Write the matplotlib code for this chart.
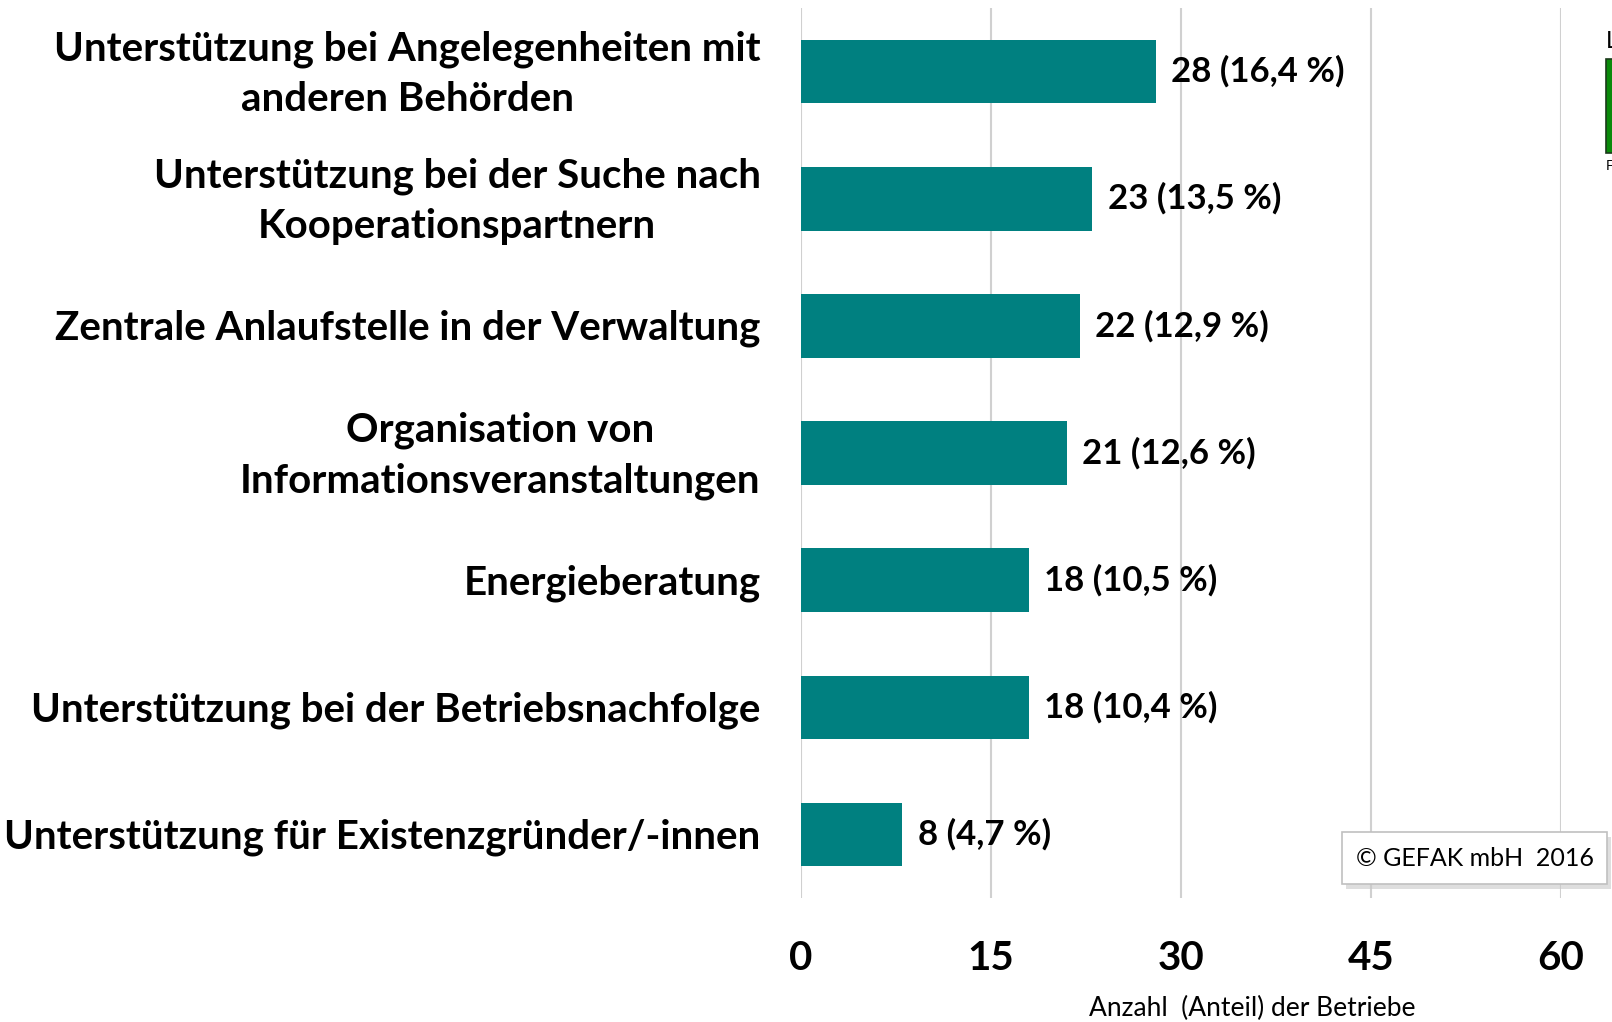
import matplotlib.pyplot as plt
from matplotlib.patches import Rectangle
from matplotlib.transforms import ScaledTranslation

plt.rcParams['font.family'] = ['Lato', 'DejaVu Sans']

# Daten
kategorien = [
    'Unterstützung bei Angelegenheiten mit\nanderen Behörden',
    'Unterstützung bei der Suche nach\nKooperationspartnern',
    'Zentrale Anlaufstelle in der Verwaltung',
    'Organisation von\nInformationsveranstaltungen',
    'Energieberatung',
    'Unterstützung bei der Betriebsnachfolge',
    'Unterstützung für Existenzgründer/-innen',
]
anzahl = [28, 23, 22, 21, 18, 18, 8]
anteil = [16.4, 13.5, 12.9, 12.6, 10.5, 10.4, 4.7]
xticks = [0, 15, 30, 45, 60]

W, H = 1612, 1022
fig = plt.figure(figsize=(W / 100, H / 100), dpi=100)
ax = fig.add_axes([801 / W, 1 - 898 / H, (1561 - 801) / W, (898 - 8) / H])

pos = list(range(len(kategorien)))
ax.barh(pos, anzahl, height=0.5, color='#008080', zorder=3)

for p, n, a in zip(pos, anzahl, anteil):
    txt = f'{n} ({a:.1f} %)'.replace('.', ',')
    ax.text(n + 1.2, p, txt, va='center', ha='left', fontsize=25,
            fontweight='bold', zorder=4)

# Kategorienbeschriftung links
tr = ax.get_yaxis_transform() + ScaledTranslation(-29 / 72, -2 / 72,
                                                  fig.dpi_scale_trans)
for p, k in zip(pos, kategorien):
    ax.text(0, p, k, transform=tr, ha='right', va='center',
            multialignment='center', linespacing=1.45, fontsize=29,
            fontweight='bold')

ax.set_xlim(0, 60)
ax.set_ylim(6.5, -0.5)
ax.set_xticks(xticks)
ax.set_xticklabels([str(t) for t in xticks], fontsize=29, fontweight='bold')
ax.set_yticks([])
ax.tick_params(axis='x', length=0, pad=30)

ax.grid(axis='x', color='#d0d0d0', linewidth=1.5, zorder=0)
for s in ax.spines.values():
    s.set_visible(False)

fig.text(1252 / W, 1 - 1008 / H, 'Anzahl  (Anteil) der Betriebe',
         ha='center', va='center', fontsize=19)

# Copyright-Kasten
shadow = Rectangle((1346 / W, 1 - 889 / H), 265 / W, 52 / H,
                   transform=fig.transFigure, facecolor='#c8c8c8',
                   edgecolor='none', alpha=0.6, zorder=5)
box = Rectangle((1342 / W, 1 - 884 / H), 265 / W, 52 / H,
                transform=fig.transFigure, facecolor='white',
                edgecolor='#c0c0c0', linewidth=1.2, zorder=6)
fig.patches.extend([shadow, box])
fig.text(1475 / W, 1 - 858 / H, '© GEFAK mbH  2016', ha='center',
         va='center', fontsize=18, zorder=7)

# abgeschnittene Legende am rechten Rand
leg = Rectangle((1606 / W, 1 - 153 / H), 20 / W, 94 / H,
                transform=fig.transFigure, facecolor='#0a8a0a',
                edgecolor='#1a3a1a', linewidth=1.2, zorder=5)
fig.patches.append(leg)
fig.text(1606 / W, 1 - 41 / H, 'L', ha='left', va='center', fontsize=17)
fig.text(1606 / W, 1 - 166 / H, 'F', ha='left', va='center', fontsize=10)

fig.savefig('out.png', dpi=100)
